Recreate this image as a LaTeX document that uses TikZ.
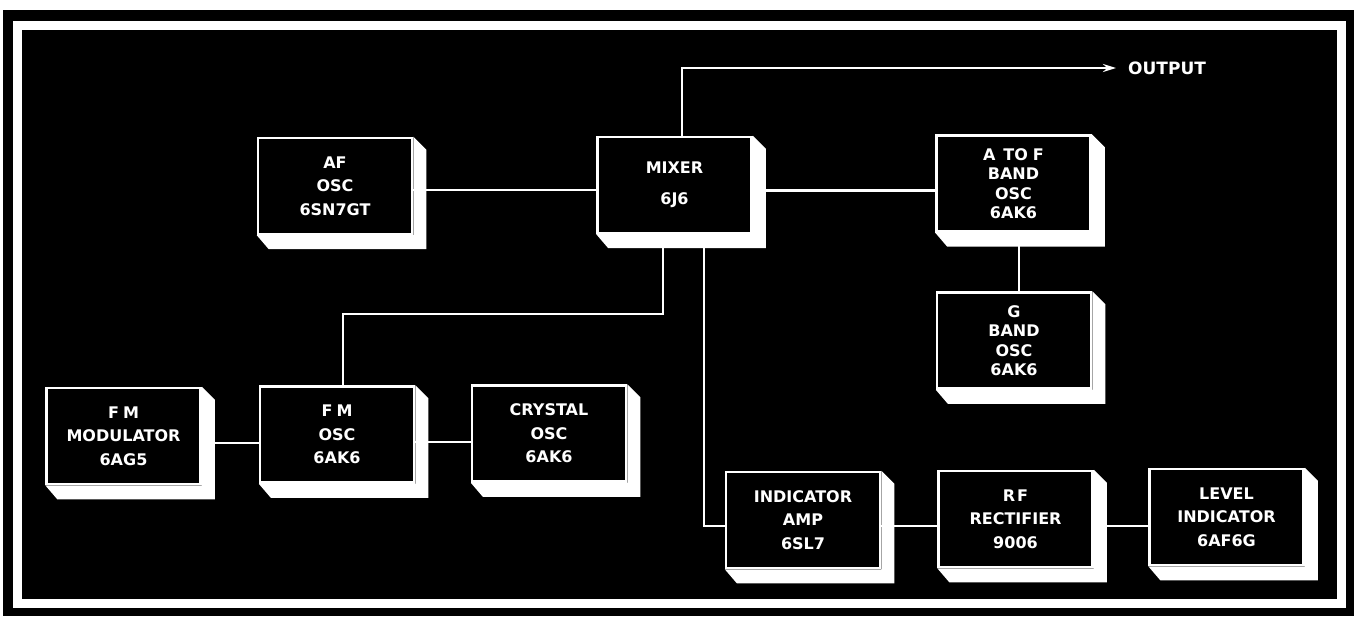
\documentclass[tikz,border=0pt]{standalone}
\usepackage{fontspec}
\newfontfamily\blkfont{DejaVu Sans}
\usetikzlibrary{calc,arrows.meta}
\pgfdeclarelayer{bg}
\pgfdeclarelayer{lines}
\pgfsetlayers{bg,lines,main}
\newcommand\extrude[1]{\fill[white] (#1.north east) -- ++(13,13) -- ($(#1.south east)+(13,14)$) -- ($(#1.south west)+(12,14)$) -- (#1.south west) -- (#1.south east) -- cycle;}
\begin{document}
\begin{tikzpicture}[x=1pt,y=-1pt,
  blockbox/.style={draw=white, line width=2.5pt, fill=black, text=white,
    minimum width=154pt, minimum height=96pt, align=center, inner sep=0pt,
    font=\blkfont\bfseries\fontsize{16}{23.5}\selectfont},
  fourline/.style={font=\blkfont\bfseries\fontsize{16}{19.5}\selectfont},
  twoline/.style={font=\blkfont\bfseries\fontsize{16}{31}\selectfont},
  conn/.style={draw=white, line width=2.4pt}]
\useasboundingbox (0,0) rectangle (1362,620);
\begin{pgfonlayer}{bg}
  \fill[white] (0,0) rectangle (1362,620);
  \fill[black] (3,10) rectangle (1354,616);
  \draw[white, line width=8.5pt] (17.5,25.5) rectangle (1341.5,603.5);
\end{pgfonlayer}

\node[blockbox] (af) at (335,186) {AF\\OSC\\6SN7GT};
\node[blockbox, twoline] (mixer) at (674.5,185) {MIXER\\6J6};
\node[blockbox, fourline] (atof) at (1013.5,183.5) {A\hspace{8pt}TO\hspace{5pt}F\\BAND\\OSC\\6AK6};
\node[blockbox, fourline] (gband) at (1014,340.5) {G\\BAND\\OSC\\6AK6};
\node[blockbox] (fmmod) at (123.5,436) {F\hspace{4pt}M\\MODULATOR\\6AG5};
\node[blockbox] (fmosc) at (337,434.5) {F\hspace{4pt}M\\OSC\\6AK6};
\node[blockbox] (crystal) at (549,433.5) {CRYSTAL\\OSC\\6AK6};
\node[blockbox] (indamp) at (803,520) {INDICATOR\\AMP\\6SL7};
\node[blockbox] (rfrect) at (1015.5,519) {R\hspace{2pt}F\\RECTIFIER\\9006};
\node[blockbox] (level) at (1226.5,517) {LEVEL\\INDICATOR\\6AF6G};

\extrude{af}\extrude{mixer}\extrude{atof}\extrude{gband}\extrude{fmmod}
\extrude{fmosc}\extrude{crystal}\extrude{indamp}\extrude{rfrect}\extrude{level}

\node[text=white, font=\blkfont\bfseries\fontsize{17}{20}\selectfont, anchor=west, inner sep=0pt] (output) at (1128,68) {OUTPUT};
\coordinate (outtip) at (1116,68);

\begin{pgfonlayer}{lines}
  \draw[conn] ([yshift=-4pt]af.east) -- ([yshift=-4pt]af.east -| mixer.west);
  \draw[conn] ([yshift=-5.5pt]mixer.east) -- ([yshift=-5.5pt]mixer.east -| atof.west);
  \draw[conn] ([xshift=5.5pt]atof.south) -- ([xshift=5.5pt]atof.south |- gband.north);
  \draw[conn] ([yshift=-7pt]fmmod.east) -- ([yshift=-7pt]fmmod.east -| fmosc.west);
  \draw[conn] ([yshift=-7.5pt]fmosc.east) -- ([yshift=-7.5pt]fmosc.east -| crystal.west);
  \draw[conn] ([yshift=-6pt]indamp.east) -- ([yshift=-6pt]indamp.east -| rfrect.west);
  \draw[conn] ([yshift=-7pt]rfrect.east) -- ([yshift=-7pt]rfrect.east -| level.west);
  \draw[conn, -{Stealth[length=13pt,width=8pt]}] ([xshift=7.5pt]mixer.north) |- (outtip);
  \draw[conn] ([xshift=-11.5pt]mixer.south) |- ([xshift=6pt,yshift=71pt]fmosc.north) -- ([xshift=6pt]fmosc.north);
  \draw[conn] ([xshift=29.5pt]mixer.south) |- ([yshift=-6pt]indamp.west);
\end{pgfonlayer}
\end{tikzpicture}
\end{document}
